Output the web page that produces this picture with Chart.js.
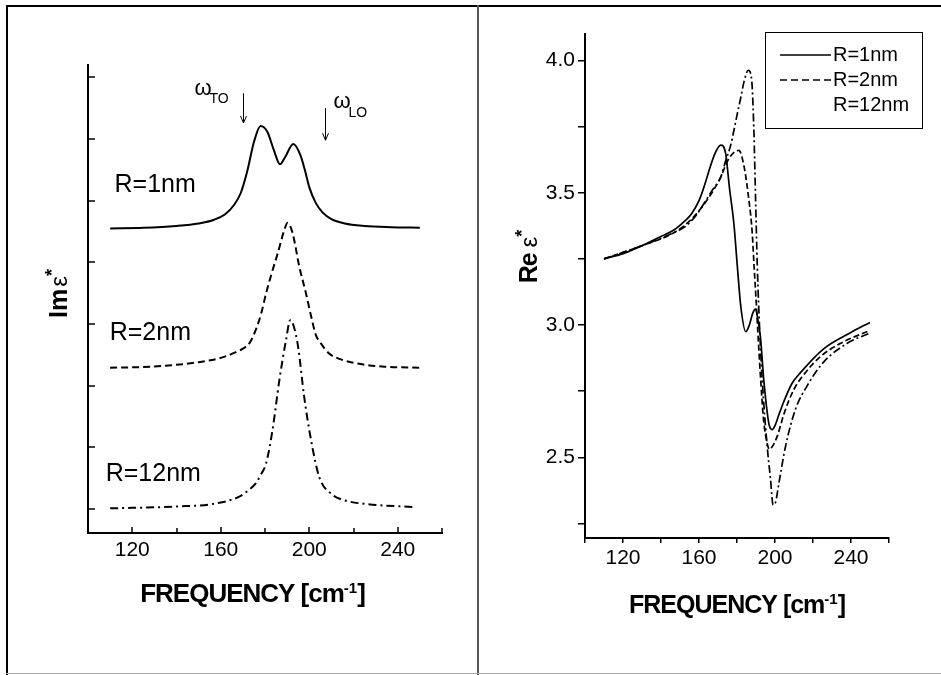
<!DOCTYPE html>
<html>
<head>
<meta charset="utf-8">
<script src="https://cdn.jsdelivr.net/npm/chart.js@4/dist/chart.umd.min.js"></script>
<style>
  body { margin: 0; background: #fff; }
  #wrap { position: relative; width: 941px; height: 675px; overflow: hidden; background: #fff; }
  #left { position: absolute; left: 0; top: 0; }
  #right { position: absolute; left: 480px; top: 0; }
  .ln { position: absolute; }
</style>
</head>
<body>
<div id="wrap">
  <canvas id="left" width="478" height="675"></canvas>
  <canvas id="right" width="461" height="675"></canvas>
  <div class="ln" style="left:6px;top:5px;width:935px;height:2px;background:#000"></div>
  <div class="ln" style="left:6px;top:5px;width:2px;height:670px;background:#000"></div>
  <div class="ln" style="left:477px;top:5px;width:2px;height:670px;background:#555"></div>
  <div class="ln" style="left:6px;top:673px;width:935px;height:1px;background:#aaa"></div>
</div>
<script>
const FONT = '"Liberation Sans", Arial, Helvetica, sans-serif';

// axis ticks
const freqTicks = [100, 120, 140, 160, 180, 200, 220, 240, 260];
const imTicks = [0, 1, 2, 3, 4, 5, 6, 7];
const reTicks = [2.25, 2.5, 2.75, 3.0, 3.25, 3.5, 3.75, 4.0];

const seriesNames = ['R=1nm', 'R=2nm', 'R=12nm'];
const modeNames = ['TO', 'LO'];
const modeFreqs = [170, 207];

// Im eps* (stacked, arbitrary units)
const im1X = [110, 125, 140, 150, 157, 162, 166, 169, 172, 175, 178, 181, 184, 186.8, 189, 192.8, 196, 198, 200, 203, 206, 210, 216, 225, 237, 250];
const im1Y = [4.55, 4.56, 4.59, 4.63, 4.69, 4.78, 4.93, 5.12, 5.48, 5.95, 6.21, 6.12, 5.82, 5.59, 5.70, 5.92, 5.74, 5.50, 5.22, 4.96, 4.81, 4.70, 4.63, 4.59, 4.57, 4.56];
const im2X = [110, 130, 150, 160, 166, 170, 173, 176, 178.5, 180.5, 183, 185.7, 188.7, 190.2, 192.5, 195.5, 198.5, 201, 203, 205, 209, 214, 220, 233, 250];
const im2Y = [2.29, 2.31, 2.38, 2.45, 2.53, 2.60, 2.69, 2.92, 3.20, 3.50, 3.82, 4.14, 4.52, 4.64, 4.47, 3.93, 3.50, 3.10, 2.82, 2.70, 2.52, 2.43, 2.37, 2.31, 2.29];
const im12X = [110, 140, 158, 168.4, 172, 175.9, 178, 180.5, 183.4, 186.5, 189.5, 191.4, 194.7, 197.7, 200.8, 204.5, 210.5, 215, 225.6, 248];
const im12Y = [0.01, 0.04, 0.09, 0.20, 0.29, 0.42, 0.55, 0.74, 1.28, 2.09, 2.74, 3.06, 2.69, 1.82, 1.12, 0.52, 0.23, 0.15, 0.08, 0.03];

// Re eps*
const re1X = [110, 120, 130, 140, 147, 152, 156, 160, 163, 166, 168.5, 171.5, 174, 176, 178.4, 180.2, 182, 184.6, 186.5, 188.3, 189.8, 191, 192.4, 194, 195.9, 197, 198.5, 200, 202, 204.6, 209, 213.4, 225.6, 239.5, 250];
const re1Y = [3.25, 3.27, 3.30, 3.335, 3.36, 3.39, 3.42, 3.47, 3.53, 3.60, 3.65, 3.68, 3.65, 3.52, 3.38, 3.22, 3.07, 2.975, 3.00, 3.045, 3.06, 3.02, 2.95, 2.80, 2.67, 2.62, 2.605, 2.62, 2.66, 2.71, 2.78, 2.82, 2.91, 2.97, 3.01];
const re2X = [110, 130, 147, 156, 164.5, 171.5, 175, 178, 181, 183.7, 186.3, 188, 189, 190, 191, 192.4, 194, 196, 197, 198.5, 201.2, 205, 209.9, 216, 223.8, 234.3, 250];
const re2Y = [3.25, 3.30, 3.35, 3.40, 3.475, 3.56, 3.62, 3.65, 3.66, 3.60, 3.47, 3.35, 3.22, 3.10, 2.97, 2.80, 2.64, 2.55, 2.53, 2.54, 2.58, 2.67, 2.756, 2.82, 2.88, 2.93, 2.98];
const re12X = [110, 130, 147, 152.3, 158, 162.7, 167, 171.5, 174, 176.7, 178.5, 180.2, 182, 183.7, 186, 187.2, 188, 188.9, 189.8, 190.7, 192, 193.3, 195.9, 197.6, 199, 200.3, 202, 205.5, 210.7, 216.9, 225.6, 237.8, 250];
const re12Y = [3.25, 3.30, 3.35, 3.37, 3.41, 3.46, 3.51, 3.56, 3.62, 3.68, 3.74, 3.80, 3.86, 3.92, 3.963, 3.95, 3.90, 3.73, 3.47, 3.22, 2.97, 2.79, 2.54, 2.42, 2.32, 2.33, 2.40, 2.54, 2.68, 2.77, 2.86, 2.93, 2.97];

function pts(xs, ys) {
  return xs.map((x, i) => ({ x: x, y: ys[i] }));
}

function line(ctx, x1, y1, x2, y2) {
  ctx.beginPath();
  ctx.moveTo(x1, y1);
  ctx.lineTo(x2, y2);
  ctx.stroke();
}

// draws pieces of text (for super/subscripts) centered at cx, baseline by
function richText(ctx, parts, cx, by, rot) {
  ctx.save();
  ctx.translate(cx, by);
  if (rot) ctx.rotate(rot);
  ctx.textAlign = 'left';
  ctx.textBaseline = 'alphabetic';
  let w = 0;
  parts.forEach(p => {
    ctx.font = p.font;
    ctx.letterSpacing = p.ls || '0px';
    p.w = ctx.measureText(p.text).width + (p.gap || 0);
    w += p.w;
  });
  let xx = -w / 2;
  parts.forEach(p => {
    ctx.font = p.font;
    ctx.letterSpacing = p.ls || '0px';
    ctx.fillText(p.text, xx, p.dy || 0);
    xx += p.w;
  });
  ctx.restore();
}

function freqTitle(ctx, cx, by, size) {
  richText(ctx, [
    { text: 'FREQUENCY [cm', font: 'bold ' + size + 'px ' + FONT, ls: '-1px' },
    { text: '-1', font: 'bold 15px ' + FONT, dy: -9 },
    { text: ']', font: 'bold ' + size + 'px ' + FONT }
  ], cx, by);
}

function ds(label, xs, ys, dash, width) {
  return {
    label: label,
    data: pts(xs, ys),
    borderColor: '#000',
    borderWidth: width,
    borderDash: dash,
    pointRadius: 0,
    fill: false,
    cubicInterpolationMode: 'monotone'
  };
}

const leftDecor = {
  id: 'leftDecor',
  afterDraw(chart) {
    const { ctx, chartArea: a } = chart;
    const x = chart.scales.x, y = chart.scales.y;
    ctx.save();
    ctx.strokeStyle = '#000';
    ctx.fillStyle = '#000';
    ctx.lineWidth = 1.5;
    // inward tick marks
    freqTicks.forEach(v => {
      const px = Math.round(x.getPixelForValue(v));
      line(ctx, px, a.bottom, px, a.bottom - (v % 40 === 0 ? 6 : 5));
    });
    imTicks.forEach(v => {
      const py = Math.round(y.getPixelForValue(v));
      line(ctx, a.left, py, a.left + 7, py);
    });
    // curve labels
    const labelAt = [[112, 5.25], [109.8, 2.85], [108, 0.57]];
    ctx.font = '25px ' + FONT;
    ctx.textAlign = 'left';
    ctx.textBaseline = 'middle';
    seriesNames.forEach((n, i) => {
      ctx.fillText(n, x.getPixelForValue(labelAt[i][0]), y.getPixelForValue(labelAt[i][1]));
    });
    // omega_TO / omega_LO arrows
    const arrowY = [[6.74, 6.26], [6.50, 5.98]];
    const textOff = [[-49, 2, -34, 10], [8, 0, 23, 9]];
    ctx.lineWidth = 1;
    ctx.textBaseline = 'alphabetic';
    modeFreqs.forEach((f, i) => {
      const px = Math.round(x.getPixelForValue(f)) + 0.5;
      const y1 = y.getPixelForValue(arrowY[i][0]);
      const y2 = y.getPixelForValue(arrowY[i][1]);
      line(ctx, px, y1, px, y2);
      ctx.beginPath();
      ctx.moveTo(px - 3, y2 - 7);
      ctx.lineTo(px, y2);
      ctx.lineTo(px + 3, y2 - 7);
      ctx.stroke();
      const o = textOff[i];
      ctx.font = '22px ' + FONT;
      ctx.fillText('\u03c9', px + o[0], y1 + o[1]);
      ctx.font = '14px ' + FONT;
      ctx.fillText(modeNames[i], px + o[2], y1 + o[3]);
    });
    // axis titles
    freqTitle(ctx, 253, 601.5, 26);
    richText(ctx, [
      { text: 'Im', font: 'bold 25px ' + FONT, gap: 2 },
      { text: '\u03b5', font: '24px ' + FONT },
      { text: '*', font: 'bold 18px ' + FONT, dy: -9 }
    ], 67, 293.5, -Math.PI / 2);
    ctx.restore();
  }
};

const rightDecor = {
  id: 'rightDecor',
  afterDraw(chart) {
    const ctx = chart.ctx;
    ctx.save();
    ctx.fillStyle = '#000';
    ctx.strokeStyle = '#000';
    // legend box
    ctx.lineWidth = 1;
    ctx.strokeRect(285.5, 32.5, 157, 96);
    const dashes = [[], [7, 4], null];
    const rowY = [55, 80, 105];
    ctx.font = '20px ' + FONT;
    ctx.textAlign = 'left';
    ctx.textBaseline = 'middle';
    seriesNames.forEach((n, i) => {
      if (dashes[i]) {
        ctx.setLineDash(dashes[i]);
        ctx.lineWidth = 1.5;
        line(ctx, 300, rowY[i], 351, rowY[i]);
        ctx.setLineDash([]);
      }
      ctx.fillText(n, 353, rowY[i]);
    });
    // axis titles
    freqTitle(ctx, 257.5, 613, 25);
    richText(ctx, [
      { text: 'Re ', font: 'bold 25px ' + FONT, ls: '-1px' },
      { text: '\u03b5', font: '24px ' + FONT },
      { text: '*', font: 'bold 18px ' + FONT, dy: -9 }
    ], 57, 256.5, -Math.PI / 2);
    ctx.restore();
  }
};

new Chart(document.getElementById('left'), {
  type: 'line',
  data: {
    datasets: [
      ds(seriesNames[0], im1X, im1Y, [], 2),
      ds(seriesNames[1], im2X, im2Y, [7, 4], 2),
      ds(seriesNames[2], im12X, im12Y, [8, 4, 2, 4], 2)
    ]
  },
  options: {
    responsive: false,
    animation: false,
    layout: { padding: { left: 0, top: 65, right: 36, bottom: 0 } },
    plugins: { legend: { display: false }, tooltip: { enabled: false } },
    scales: {
      x: {
        type: 'linear', min: 100, max: 260,
        afterBuildTicks: s => { s.ticks = freqTicks.map(v => ({ value: v })); },
        afterFit: s => { s.height = 142; },
        grid: { display: false, drawTicks: false },
        border: { display: true, color: '#000', width: 2 },
        ticks: {
          color: '#000', padding: 5, maxRotation: 0, autoSkip: false,
          font: { family: FONT, size: 21 },
          callback: v => (v % 40 === 0 ? String(v) : '')
        }
      },
      y: {
        type: 'linear', min: -0.39, max: 7.2,
        afterBuildTicks: s => { s.ticks = imTicks.map(v => ({ value: v })); },
        afterFit: s => { s.width = 88; },
        grid: { display: false, drawTicks: false },
        border: { display: true, color: '#000', width: 2 },
        ticks: { display: false }
      }
    }
  },
  plugins: [leftDecor]
});

new Chart(document.getElementById('right'), {
  type: 'line',
  data: {
    datasets: [
      ds(seriesNames[0], re1X, re1Y, [], 1.7),
      ds(seriesNames[1], re2X, re2Y, [6, 3], 1.7),
      ds(seriesNames[2], re12X, re12Y, [8, 3, 2, 3], 1.7)
    ]
  },
  options: {
    responsive: false,
    animation: false,
    layout: { padding: { left: 0, top: 34, right: 52, bottom: 0 } },
    plugins: { legend: { display: false }, tooltip: { enabled: false } },
    scales: {
      x: {
        type: 'linear', min: 100, max: 260,
        afterBuildTicks: s => { s.ticks = freqTicks.map(v => ({ value: v })); },
        afterFit: s => { s.height = 137; },
        grid: { display: true, drawOnChartArea: false, drawTicks: true, tickLength: 5, color: '#000', lineWidth: 1.5 },
        border: { display: true, color: '#000', width: 2 },
        ticks: {
          color: '#000', padding: 3, maxRotation: 0, autoSkip: false,
          font: { family: FONT, size: 21 },
          callback: v => (v % 40 === 0 ? String(v) : '')
        }
      },
      y: {
        type: 'linear', min: 2.195, max: 4.1,
        afterBuildTicks: s => { s.ticks = reTicks.map(v => ({ value: v })); },
        afterFit: s => { s.width = 105; },
        grid: { display: true, drawOnChartArea: false, drawTicks: true, tickLength: 7, color: '#000', lineWidth: 1.5 },
        border: { display: true, color: '#000', width: 2 },
        ticks: {
          color: '#000', padding: 3, autoSkip: false,
          font: { family: FONT, size: 21 },
          callback: v => (Math.abs(v * 2 - Math.round(v * 2)) < 1e-6 ? v.toFixed(1) : '')
        }
      }
    }
  },
  plugins: [rightDecor]
});
</script>
</body>
</html>
